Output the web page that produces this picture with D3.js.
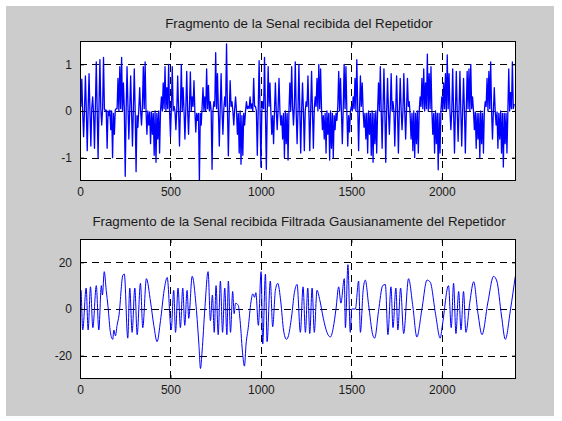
<!DOCTYPE html>
<html>
<head>
<meta charset="utf-8">
<script src="https://cdn.jsdelivr.net/npm/d3@7"></script>
<style>
  body { margin: 0; background: #fff; }
  svg { display: block; font-family: "Liberation Sans", Arial, sans-serif; }
</style>
</head>
<body>
<div id="chart"></div>
<script>
// ---- data ----
const xTicks = [0, 500, 1000, 1500, 2000];
const rawTicks = [-1, 0, 1];
const filtTicks = [-20, 0, 20];
const xMax = 2410;

const rawTitle = 'Fragmento de la Senal recibida del Repetidor';
const filtTitle = 'Fragmento de la Senal recibida Filtrada Gausianamente del Repetidor';

// received signal, one value every 5 samples
const rawStep = 5;
const rawValues = [
  1.0, 0.1, 0.68, -0.05, -0.55, 0.05, 0.75, 0.0, -0.85, 0.05,
  0.8, 0.0, -0.75, 0.05, 0.3, -0.05, -0.8, 0.1, 1.05, 0.0,
  -1.0, 0.1, 1.1, 0.05, -0.3, 0.05, 1.15, 0.05, 0.0, 0.02,
  -0.8, 0.0, -0.1, 0.02, -0.4, 0.0, -1.0, -0.05, -0.5, 0.02,
  0.05, 0.05, 0.7, 0.0, 0.95, 0.05, 1.15, 0.0, 0.6, 0.05,
  -1.4, 0.0, 0.95, 0.1, -0.6, 0.05, 0.75, 0.0, -0.75, 0.05,
  0.9, 0.0, -1.3, -0.1, -0.35, 0.05, 0.5, 0.0, -0.3, 0.1,
  0.95, 0.05, 1.05, 0.0, -0.5, 0.0, -0.3, -0.02, -0.7, -0.02,
  -0.5, -0.05, -0.95, 0.0, -1.1, -0.05, -0.6, 0.0, -0.9, 0.0,
  0.3, 0.0, 0.6, 0.05, 0.95, 0.0, 0.5, 0.05, 1.0, 0.0,
  -0.55, 0.05, 0.95, 0.0, 0.1, 0.0, -0.4, 0.05, 0.75, 0.0,
  -0.75, 0.05, 1.0, 0.0, 0.5, 0.0, -0.6, 0.05, 0.85, 0.0,
  -0.5, 0.1, 0.84, 0.0, 0.3, 0.1, 0.65, 0.0, -0.45, -0.05,
  -0.2, -0.05, -1.54, -0.05, -0.3, 0.1, 0.5, 0.0, 0.3, 0.0,
  0.9, 0.05, 0.55, 0.0, 0.2, 0.0, -1.25, 0.0, 0.2, 0.1,
  1.25, 0.05, 0.8, 0.0, -0.75, 0.05, 0.8, 0.0, -0.5, 0.05,
  0.3, 0.1, 1.44, 0.05, -0.96, 0.0, 0.65, 0.1, 0.2, 0.0,
  -0.3, 0.05, 0.3, 0.0, -0.5, -0.05, -0.9, 0.0, -1.14, -0.1,
  -0.95, -0.05, -0.3, 0.0, 0.2, 0.05, 0.1, 0.05, 0.3, 0.05,
  0.15, 0.0, 0.7, 0.1, 0.1, 0.0, -0.95, 0.0, 1.08, 0.05,
  -1.2, 0.0, 0.2, 0.05, 1.15, 0.0, -1.25, 0.0, 0.95, 0.1,
  0.6, 0.0, -0.5, -0.1, -0.7, 0.0, 0.6, 0.0, -0.4, 0.05,
  0.7, 0.0, -0.3, -0.1, -0.6, -0.05, -1.0, 0.0, -0.7, -0.05,
  -1.05, 0.0, 0.6, 0.0, 0.95, 0.1, -0.3, 0.1, 1.05, 0.0,
  -0.7, 0.0, 1.0, 0.0, -0.9, 0.0, 0.6, 0.0, -0.85, 0.0,
  0.2, 0.1, 0.75, 0.0, -0.85, 0.0, 0.85, 0.0, -0.8, 0.05,
  0.3, 0.1, 0.7, 0.0, 1.0, 0.05, 0.9, 0.05, -0.4, -0.1,
  -0.6, -0.05, -0.9, 0.0, -0.5, -0.05, -1.05, 0.0, -0.8, -0.05,
  -1.0, -0.1, -0.4, -0.05, -0.2, 0.1, 0.85, 0.0, 0.7, 0.0,
  -0.7, 0.05, 1.0, 0.05, 0.95, 0.0, -0.75, -0.1, -0.45, 0.0,
  0.1, 0.0, 0.3, 0.05, 0.7, 0.0, 1.1, 0.1, -0.85, 0.0,
  0.75, 0.1, 0.6, 0.0, -0.35, -0.05, -0.6, -0.05, -0.9, 0.0,
  -0.5, -0.05, -0.95, 0.0, -1.1, -0.05, -0.7, 0.0, -0.9, 0.0,
  0.6, 0.0, 0.95, 0.0, -0.8, 0.05, 0.9, 0.0, -1.1, 0.0,
  0.7, 0.0, -0.5, 0.05, 0.8, 0.0, 0.2, 0.0, -0.75, 0.0,
  0.75, 0.0, -0.9, 0.0, 0.7, 0.05, -0.4, 0.0, 0.8, 0.0,
  -0.6, 0.05, 0.7, 0.1, 0.2, -0.1, -0.6, -0.05, -0.85, 0.0,
  -1.0, -0.05, -0.7, 0.0, -0.9, 0.0, 0.3, 0.1, 0.7, 0.05,
  0.9, 0.0, 0.6, 0.05, 1.22, 0.0, 0.8, 0.05, 0.95, 0.0,
  -0.5, -0.05, -0.9, 0.0, -0.7, -0.05, -1.26, -0.05, -0.9, 0.0,
  0.3, 0.0, 0.6, 0.05, 0.8, 0.0, 1.2, 0.05, 0.8, 0.0,
  -0.4, 0.0, 0.9, 0.0, -0.9, 0.0, 0.85, 0.0, -0.65, 0.0,
  0.85, 0.0, -0.75, 0.0, 0.7, 0.0, -0.9, 0.0, 0.85, 0.05,
  0.9, 0.0, 1.0, 0.05, 0.3, 0.0, -0.4, -0.02, -0.8, -0.05,
  -0.6, -0.05, -1.0, 0.0, -0.7, -0.05, -0.9, 0.0, 0.2, 0.1,
  0.7, 0.0, 0.85, 0.05, 1.05, 0.0, -0.6, 0.0, 0.5, 0.0,
  -0.3, -0.02, -0.8, -0.05, -0.6, 0.0, -0.9, -0.05, -1.2, -0.05,
  -0.7, -0.05, -0.9, 0.0, 0.9, 0.0, 0.4, 0.05, 1.05, 0.05,
  0.15
];

// gaussian-filtered signal, turning points (sample, value)
const filtX = [
  0, 5, 15, 34, 45, 58, 71, 90, 104, 118, 124, 134, 145, 155, 168, 181, 187, 196, 205, 215,
  237, 245, 264, 275, 288, 303, 316, 334, 347, 367, 390, 408, 426, 445, 465, 482, 504, 518, 528, 542,
  555, 568, 579, 592, 601, 620, 642, 657, 666, 675, 690, 708, 721, 732, 742, 752, 764, 776, 788, 800,
  812, 820, 832, 844, 852, 860, 875, 885, 900, 909, 918, 930, 945, 955, 965, 972, 986, 1001, 1010, 1025,
  1034, 1052, 1065, 1080, 1093, 1110, 1125, 1141, 1150, 1170, 1185, 1200, 1218, 1233, 1246, 1259, 1270, 1283, 1295, 1310,
  1325, 1345, 1365, 1384, 1400, 1415, 1430, 1442, 1461, 1467, 1481, 1494, 1502, 1522, 1540, 1550, 1565, 1577, 1595, 1618,
  1629, 1650, 1673, 1688, 1702, 1719, 1730, 1746, 1757, 1772, 1789, 1816, 1840, 1862, 1890, 1918, 1936, 1965, 1991, 2003,
  2037, 2052, 2065, 2078, 2093, 2106, 2120, 2133, 2155, 2176, 2200, 2222, 2255, 2286, 2304, 2330, 2351, 2380, 2406
];
const filtY = [
  0, 8, -9, 9, -9, 9.5, -8, 10, -9, 10, 6, 16, 8, 1, -10, -13, -9, -11.5, -7, -3,
  14.5, 15, -12.5, 9, -10, 9, -11, 11, -8, 13, 3, -7, -14, -5, 8, 13.5, -9, 8, -10, 9,
  -8, 9, -7, 8, -4, 14, 1, -15, -25.5, -18, 0, 16, -5, 6, -10, 10, -11, 12, -10, 9,
  -11, 12, -10, 7.5, -2, 2.5, 1.5, -5, -20, -24.5, -15, -8, 3, 6.5, 5, 7, -7, 16, -15, 15,
  -14, 12, -7.6, 8, 11, 3, -9, -13, -12, -3, 7, 10.5, -10, 9.5, -10, 9, -10.5, 9, -10, 8,
  4, -4, -10, -12, -8, 0, 9.5, 2.5, 13, -8, 19, -10, 0, 0, 12, -10, 8, 12.4, 2, -11,
  -12.5, -1, 10, 10.5, -11, 9.5, -8, 9, -9, 9, -10.5, 13, 1, -12, 0, 12.4, 11.5, -2, -12.5, -7,
  10, -8, 11, -10.5, 7.5, -9, 7.5, -10, 3, 11.7, -2, -11, 3, 14, 12, -3, -13, 0, 14
];

// ---- figure ----
const W = 562, H = 421;
const svg = d3.select('#chart').append('svg')
  .attr('width', W)
  .attr('height', H);

svg.append('rect')
  .attr('x', 6).attr('y', 6)
  .attr('width', 548).attr('height', 410)
  .attr('fill', '#cccccc');

function drawPanel(opts) {
  const { left, right, top, bottom, yDomain, yTicks, points, curve, title } = opts;

  const x = d3.scaleLinear().domain([0, xMax]).range([left, right]);
  const y = d3.scaleLinear().domain(yDomain).range([bottom, top]);

  const g = svg.append('g');

  g.append('rect')
    .attr('x', left).attr('y', top)
    .attr('width', right - left).attr('height', bottom - top)
    .attr('fill', '#fff');

  // clip so the signal stays inside the box
  const clipId = 'clip' + Math.round(top);
  svg.append('clipPath').attr('id', clipId)
    .append('rect')
    .attr('x', left).attr('y', top)
    .attr('width', right - left).attr('height', bottom - top);

  // dashed grid
  g.append('g').selectAll('line')
    .data(xTicks.filter(d => d > 0))
    .join('line')
    .attr('x1', d => Math.round(x(d)) + 0.5).attr('x2', d => Math.round(x(d)) + 0.5)
    .attr('y1', top).attr('y2', bottom)
    .attr('stroke', '#000').attr('stroke-width', 1)
    .attr('stroke-dasharray', '7,5');

  g.append('g').selectAll('line')
    .data(yTicks)
    .join('line')
    .attr('x1', left).attr('x2', right)
    .attr('y1', d => Math.round(y(d)) + 0.5).attr('y2', d => Math.round(y(d)) + 0.5)
    .attr('stroke', '#000').attr('stroke-width', 1)
    .attr('stroke-dasharray', '7,5');

  // signal
  const line = d3.line()
    .x(d => x(d[0]))
    .y(d => y(d[1]))
    .curve(curve);

  g.append('path')
    .datum(points)
    .attr('clip-path', `url(#${clipId})`)
    .attr('fill', 'none')
    .attr('stroke', '#0000ff')
    .attr('stroke-width', opts.lineWidth)
    .attr('stroke-linejoin', 'round')
    .attr('d', line);

  // axes: labels bottom/left, inward ticks on all four sides
  const tickLen = 4;
  const plain = d => String(d);
  g.append('g')
    .attr('transform', `translate(0,${bottom})`)
    .call(d3.axisBottom(x).tickValues(xTicks).tickFormat(plain)
      .tickSizeInner(-tickLen).tickSizeOuter(0).tickPadding(6));
  g.append('g')
    .attr('transform', `translate(${left},0)`)
    .call(d3.axisLeft(y).tickValues(yTicks).tickFormat(plain)
      .tickSizeInner(-tickLen).tickSizeOuter(0).tickPadding(8));
  g.append('g')
    .attr('transform', `translate(0,${top})`)
    .call(d3.axisTop(x).tickValues(xTicks).tickSizeInner(-tickLen).tickSizeOuter(0).tickFormat(''));
  g.append('g')
    .attr('transform', `translate(${right},0)`)
    .call(d3.axisRight(y).tickValues(yTicks).tickSizeInner(-tickLen).tickSizeOuter(0).tickFormat(''));

  g.selectAll('.domain').remove();
  g.selectAll('.tick line').attr('stroke', '#000');
  g.selectAll('.tick text')
    .attr('fill', '#1a1a1a')
    .style('font-size', '12px');

  // box
  g.append('rect')
    .attr('x', left + 0.5).attr('y', top + 0.5)
    .attr('width', right - left - 1).attr('height', bottom - top - 1)
    .attr('fill', 'none')
    .attr('stroke', '#000')
    .attr('stroke-width', 1);

  g.append('text')
    .attr('x', (left + right) / 2 + 1)
    .attr('y', top - 13)
    .attr('text-anchor', 'middle')
    .attr('fill', '#1a1a1a')
    .style('font-size', '13.3px')
    .text(title);
}

drawPanel({
  left: 80, right: 516, top: 41, bottom: 181,
  yDomain: [-1.5, 1.5], yTicks: rawTicks,
  points: rawValues.map((v, i) => [i * rawStep, v]),
  curve: d3.curveLinear,
  lineWidth: 1.3,
  title: rawTitle
});

drawPanel({
  left: 80, right: 516, top: 239, bottom: 379,
  yDomain: [-30, 30], yTicks: filtTicks,
  points: filtX.map((v, i) => [v, filtY[i]]),
  curve: d3.curveMonotoneX,
  lineWidth: 1,
  title: filtTitle
});
</script>
</body>
</html>
